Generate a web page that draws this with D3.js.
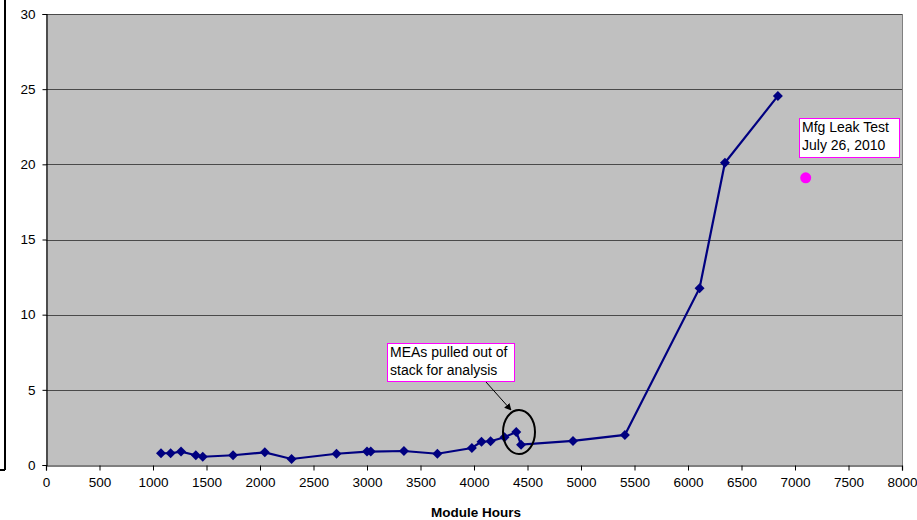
<!DOCTYPE html>
<html>
<head>
<meta charset="utf-8">
<script src="https://cdn.jsdelivr.net/npm/d3@7/dist/d3.min.js"></script>
<style>
  html, body { margin: 0; padding: 0; background: #fff; }
  svg { display: block; font-family: Arial, "Liberation Sans", sans-serif; }
</style>
</head>
<body>
<svg id="chart" width="917" height="520"></svg>
<script>
// ---- data ----
const moduleHours = [1075, 1165, 1262, 1400, 1465, 1748, 2045, 2295, 2715, 3000, 3035, 3345, 3658, 3980, 4070, 4155, 4285, 4395, 4440, 4925, 5410, 6108, 6345, 6840];
const seriesValues = [0.78, 0.78, 0.89, 0.65, 0.55, 0.65, 0.84, 0.40, 0.75, 0.89, 0.89, 0.93, 0.75, 1.13, 1.55, 1.58, 1.85, 2.2, 1.35, 1.6, 2.0, 11.76, 20.1, 24.55];
const leakTestHours = [7100];
const leakTestValues = [19.1];
const xTicks = [0, 500, 1000, 1500, 2000, 2500, 3000, 3500, 4000, 4500, 5000, 5500, 6000, 6500, 7000, 7500, 8000];
const yTicks = [0, 5, 10, 15, 20, 25, 30];
const xTitle = "Module Hours";
const noteMEA = ["MEAs pulled out of", "stack for analysis"];
const noteLeak = ["Mfg Leak Test", "July 26, 2010"];

// ---- layout ----
const svg = d3.select("#chart");
const L = 46, R = 902, T = 14, B = 465;
const x = d3.scaleLinear().domain([0, 8000]).range([L, R]);
const y = d3.scaleLinear().domain([0, 30]).range([B, T]);

// outer cropped border
svg.append("line").attr("x1", 5).attr("x2", 5).attr("y1", 0).attr("y2", 470)
  .attr("stroke", "#000").attr("stroke-width", 2);
svg.append("line").attr("x1", 0).attr("x2", 5).attr("y1", 470).attr("y2", 470)
  .attr("stroke", "#000").attr("stroke-width", 2);

// plot background
svg.append("rect").attr("x", L).attr("y", T).attr("width", R - L).attr("height", B - T)
  .attr("fill", "#c0c0c0");
// right border
svg.append("line").attr("x1", R + 0.5).attr("x2", R + 0.5).attr("y1", T).attr("y2", B)
  .attr("stroke", "#808080");

// gridlines
svg.append("g").selectAll("line").data(yTicks.filter(d => d > 0)).join("line")
  .attr("x1", L).attr("x2", R)
  .attr("y1", d => Math.round(y(d)) + 0.5).attr("y2", d => Math.round(y(d)) + 0.5)
  .attr("stroke", "#4a4a4a").attr("stroke-width", 1);

// axes
const yAxis = d3.axisLeft(y).tickValues(yTicks).tickSize(4).tickPadding(7).tickFormat(d3.format("d"));
const gy = svg.append("g").attr("transform", `translate(${L + 0.5},0)`).call(yAxis);
const xAxis = d3.axisBottom(x).tickValues(xTicks).tickSize(5).tickPadding(7).tickFormat(d3.format("d"));
const gx = svg.append("g").attr("transform", `translate(0,${B + 0.5})`).call(xAxis);
[gx, gy].forEach(g => {
  g.select(".domain").attr("stroke", "#000").attr("stroke-width", 1.2);
  g.selectAll(".tick line").attr("stroke", "#000");
  g.selectAll(".tick text").attr("fill", "#000").attr("font-size", 13.5)
    .attr("font-family", "Arial, 'Liberation Sans', sans-serif");
});

// axis title
svg.append("text").attr("x", 476).attr("y", 517).attr("text-anchor", "middle")
  .attr("font-size", 13.5).attr("font-weight", "bold").text(xTitle);

// series line
const pts = moduleHours.map((h, i) => [h, seriesValues[i]]);
svg.append("path").datum(pts)
  .attr("d", d3.line().x(d => x(d[0])).y(d => y(d[1])))
  .attr("fill", "none").attr("stroke", "#000080").attr("stroke-width", 2.2);
svg.append("g").selectAll("path").data(pts).join("path")
  .attr("transform", d => `translate(${x(d[0])},${y(d[1])})`)
  .attr("d", "M0,-5 L5,0 L0,5 L-5,0 Z")
  .attr("fill", "#000080");

// leak test point
svg.append("g").selectAll("circle").data(leakTestHours.map((h, i) => [h, leakTestValues[i]])).join("circle")
  .attr("cx", d => x(d[0])).attr("cy", d => y(d[1])).attr("r", 5.5).attr("fill", "#ff00ff");

// annotations
function note(x0, y0, w, h, lines) {
  svg.append("rect").attr("x", x0 + 0.5).attr("y", y0 + 0.5).attr("width", w).attr("height", h)
    .attr("fill", "#fff").attr("stroke", "#ff00ff").attr("stroke-width", 1);
  lines.forEach((t, i) => {
    svg.append("text").attr("x", x0 + 3).attr("y", y0 + 14 + i * 17.5)
      .attr("font-size", 14).attr("fill", "#000").text(t);
  });
}
note(387, 343, 127, 38, noteMEA);
note(799, 118, 100, 39, noteLeak);

// arrow + ellipse
const defs = svg.append("defs");
defs.append("marker").attr("id", "arr").attr("viewBox", "0 0 10 10").attr("refX", 9).attr("refY", 5)
  .attr("markerWidth", 7).attr("markerHeight", 7).attr("orient", "auto")
  .append("path").attr("d", "M0,0 L10,5 L0,10 Z").attr("fill", "#000");
svg.append("line").attr("x1", 486).attr("y1", 382).attr("x2", 511).attr("y2", 410)
  .attr("stroke", "#000").attr("stroke-width", 1).attr("marker-end", "url(#arr)");
svg.append("ellipse").attr("cx", 519).attr("cy", 432).attr("rx", 16).attr("ry", 22)
  .attr("fill", "none").attr("stroke", "#000").attr("stroke-width", 2);
</script>
</body>
</html>
